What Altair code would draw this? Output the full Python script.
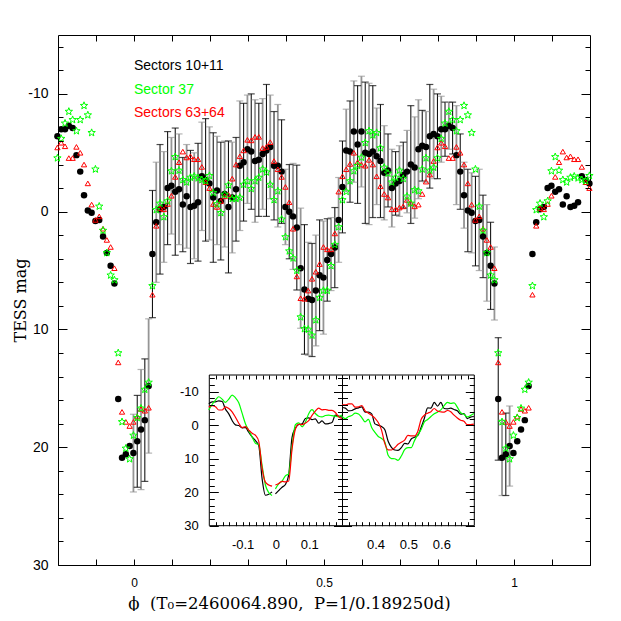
import math
import altair as alt
import pandas as pd

# ---------------- layout ----------------
W, H = 532, 530
PAD_L, PAD_T = 50, 27

# ---------------- data ----------------
PHASE = [round(-0.0015 + 0.01 * k, 4) for k in range(100)]

BLACK_MAG = [20.5, 19.5, 18.5, 17.7, 14.8, 3.6, 0.9, -0.2, -0.4, -2.0,
             -2.2, -1.7, -1.9, -0.6, -1.3, -0.4, -0.5, -0.8, -3.0, -2.7,
             -2.4, -1.2, -1.8, -0.9, -1.5, -0.4, -1.2, -1.9, -3.9, -4.2,
             -5.3, -5.1, -4.3, -4.4, -4.9, -5.2, -5.5, -3.9, -3.9, -3.4,
             -0.4, 0.0, 0.4, 1.35, 4.8, 6.6, 7.4, 7.5, 6.7, 5.4,
             5.6, 4.1, 3.6, 3.05, 0.7, -2.1, -5.2, -5.1, -6.8, -5.7,
             -6.8, -5.0, -4.9, -5.1, -4.7, -4.3, -3.3, -3.5, -2.0, -2.4,
             -2.6, -3.1, -3.4, -4.0, -3.75, -5.3, -5.6, -5.5, -6.4, -6.6,
             -6.4, -7.0, -7.0, -7.3, -7.1, -4.8, -3.4, -1.4, -0.1, 0.1,
             0.8, 0.7, 2.1, 3.5, 4.6, 6.1, 15.9, 20.9, 20.6, 19.9]

BLACK_ERR = [3.3, 3.9, 5.1, 5.2, 5.7, 5.4, 5.1, 5.5, 4.7, 4.8,
             4.1, 5.4, 4.7, 4.0, 4.4, 4.8, 4.5, 5.0, 4.6, 5.2,
             4.8, 5.5, 4.6, 5.0, 4.5, 5.6, 4.7, 4.4, 5.5, 5.0,
             4.6, 4.9, 5.2, 4.8, 4.7, 5.6, 4.4, 4.6, 5.2, 4.4,
             3.2, 4.0, 4.5, 5.3, 5.1, 5.5, 4.8, 4.8, 4.7, 4.7,
             4.8, 3.5, 3.1, 3.4, 3.6, 3.9, 3.5, 4.3, 4.3, 5.0,
             4.7, 6.0, 6.0, 5.6, 4.1, 4.8, 4.0, 3.1, 3.3, 2.7,
             3.0, 2.8, 3.5, 5.0, 4.3, 4.2, 3.0, 3.0, 4.4, 3.8,
             3.6, 2.8, 2.3, 2.0, 2.2, 4.2, 3.2, 2.8, 3.5, 3.4,
             3.8, 4.3, 3.5, 4.1, 3.7, 3.1, 5.2, 3.2, 3.5, 3.4]

GREEN_MAG = [19.0, 17.5, 16.7, 15.1, 14.5, 6.3, -0.15, -0.7, 0.45, -0.9,
             -3.45, -4.65, -3.5, -2.7, -2.5, -2.9, -3.0, -2.85, -2.7, -2.6,
             -3.05, -1.6, -0.65, 0.1, -1.45, -2.25, -1.1, -1.1, -1.2, -2.3,
             -2.6, -1.95, -2.6, -2.9, -3.6, -3.35, -2.3, -1.0, -1.75, 0.65,
             2.15, 3.35, 3.95, 5.0, 8.95, 9.95, 10.0, 10.5, 9.2, 7.3,
             6.7, 6.7, 4.6, 2.8, 1.3, -1.0, -1.7, -2.6, -3.45, -3.9,
             -4.6, -5.85, -6.85, -6.5, -6.7, -5.4, -3.75, -3.25, -2.5, -2.9,
             -3.5, -2.8, -1.3, -0.7, -1.85, -1.75, -3.6, -4.55, -3.5, -3.75,
             -4.55, -6.2, -7.5, -8.5, -7.8, -6.85, -7.8, -9.0, -8.2, -6.7,
             -3.6, -0.45, 1.6, 3.5, 5.4, 5.8, 12.0, 17.85, 20.1, 21.0]

RED_MAG = [17.85, 17.4, 16.75, 16.9, 16.65, 7.05, 1.2, -0.3, -0.2, -0.65,
           -1.35, -2.95, -4.2, -5.1, -4.6, -4.7, -4.45, -4.45, -3.8, -2.5,
           -2.0, -0.65, -0.4, -0.9, -1.3, -1.45, -2.8, -4.0, -4.7, -5.2,
           -6.1, -6.05, -6.35, -6.35, -5.4, -5.5, -5.9, -4.3, -3.6, -2.95,
           -2.1, -0.8, 1.45, 5.5, 7.35, 7.4, 6.7, 5.7, 5.1, 4.45,
           3.0, 3.2, 3.2, 1.85, -1.7, -3.0, -3.6, -4.05, -5.0, -4.2,
           -4.0, -3.9, -4.4, -4.0, -3.0, -2.15, -1.5, -1.2, -0.2, -0.2,
           -0.35, -0.45, -1.0, -0.75, -0.45, -0.6, -1.5, -2.55, -3.15, -4.3,
           -5.45, -5.85, -5.55, -4.55, -4.55, -5.5, -5.0, -4.0, -2.4, -0.6,
           0.7, 0.4, 1.45, 2.4, 3.0, 4.8, 12.8, 17.0, 17.85, 18.2]

LEGEND_LABELS = ["Sectors 10+11", "Sector 37", "Sectors 63+64"]
LEGEND_COLORS = ["black", "#00ff00", "#ff0000"]
LEGEND_X = [0.0, 0.0, 0.0]
LEGEND_Y = [-12.0, -10.0, -8.0]

X_TITLE = "\u03d5\u00a0 (T\u2080=2460064.890,\u00a0 P=1/0.189250d)"
Y_TITLE = "TESS mag"

# five-pointed star outline as a unit-size symbol path
_pts = []
for i in range(10):
    r = 1.0 if i % 2 == 0 else 0.42
    a = math.radians(-90 + 36 * i)
    _pts.append((r * math.cos(a), r * math.sin(a)))
STAR = "M" + " L".join(f"{x:.3f},{y:.3f}" for x, y in _pts) + " Z"


def expand(mags):
    rows = []
    for p, m in zip(PHASE, mags):
        rows.append({"phase": p, "mag": m, "seg": "main"})
        if p - 1 >= -0.205:
            rows.append({"phase": round(p - 1, 4), "mag": m, "seg": "before"})
        if p + 1 <= 1.2:
            rows.append({"phase": round(p + 1, 4), "mag": m, "seg": "after"})
    return pd.DataFrame(rows)


black_df = expand(BLACK_MAG)
green_df = expand(GREEN_MAG)
red_df = expand(RED_MAG)

err_df = pd.DataFrame({
    "phase": PHASE,
    "lo": [m - e for m, e in zip(BLACK_MAG, BLACK_ERR)],
    "hi": [m + e for m, e in zip(BLACK_MAG, BLACK_ERR)],
    "shade": [("k" if k % 2 == 1 else "g") if k < 75 else ("k" if k % 2 == 0 else "g")
              for k in range(100)],
})

legend_df = pd.DataFrame({"label": LEGEND_LABELS, "color": LEGEND_COLORS,
                          "x": LEGEND_X, "y": LEGEND_Y})

# ---------------- scales ----------------
X_MAIN = alt.Scale(domain=[-0.2, 1.2], range=[0, W], nice=False, zero=False)
Y_MAIN = alt.Scale(domain=[-15, 30], range=[0, H], nice=False, zero=False)

IT, IB = 340.0, 490.7          # inset top / bottom (pixels in plot area)
IL0, IL1, IR1 = 151.3, 284.5, 416.3
X_IL = alt.Scale(domain=[-0.2, 0.2], range=[IL0, IL1], nice=False, zero=False)
X_IR = alt.Scale(domain=[0.3, 0.7], range=[IL1, IR1], nice=False, zero=False)
Y_IN = alt.Scale(domain=[-15, 30], range=[IT, IB], nice=False, zero=False)

LBL_FONT = "Liberation Sans"
Y_MAJOR = [-10, 0, 10, 20, 30]
Y_MINOR = list(range(-14, 31, 2))
X_TICKS_MAIN = [round(-0.1 + 0.1 * i, 1) for i in range(13)]
X_TICKS_IL = [round(-0.18 + 0.02 * i, 2) for i in range(19)]
X_TICKS_IR = [round(0.32 + 0.02 * i, 2) for i in range(19)]


def tick_axis(orient, offset, values, size):
    return alt.Axis(orient=orient, offset=offset, values=values, tickSize=size,
                    tickColor="black", tickWidth=1, labels=False, domain=False,
                    grid=False, title=None, zindex=1)


def label_axis(orient, offset, values, size, pad, **kw):
    return alt.Axis(orient=orient, offset=offset, values=values,
                    labelExpr="datum.value + ''", tickSize=0, ticks=False,
                    domain=False, grid=False, labelFont=LBL_FONT,
                    labelFontSize=size, labelColor="black", labelPadding=pad,
                    labelFlush=False, labelOverlap=False, zindex=1, **kw)


carrier_df = pd.DataFrame({"phase": [0.0], "mag": [0.0]})


def carrier(xs, ys, xaxis, yaxis):
    return alt.Chart(carrier_df).mark_point(opacity=0).encode(
        x=alt.X("phase:Q", scale=xs, axis=xaxis),
        y=alt.Y("mag:Q", scale=ys, axis=yaxis),
    )


# ---------------- main panel ----------------
def xm():
    return alt.X("phase:Q", scale=X_MAIN, axis=None)


shade_color = alt.Color("shade:N", scale=alt.Scale(domain=["k", "g"],
                        range=["black", "#959595"]), legend=None)
shade_width = alt.StrokeWidth("shade:N", scale=alt.Scale(domain=["k", "g"],
                              range=[1.0, 1.8]), legend=None)

err_rule = alt.Chart(err_df).mark_rule().encode(
    x=xm(), y=alt.Y("lo:Q", scale=Y_MAIN, axis=None), y2="hi:Q",
    color=shade_color, strokeWidth=shade_width)
cap_lo = alt.Chart(err_df).mark_tick(orient="horizontal", size=7, thickness=1.2).encode(
    x=xm(), y=alt.Y("lo:Q", scale=Y_MAIN, axis=None), color=shade_color)
cap_hi = alt.Chart(err_df).mark_tick(orient="horizontal", size=7, thickness=1.2).encode(
    x=xm(), y=alt.Y("hi:Q", scale=Y_MAIN, axis=None), color=shade_color)

ym = alt.Y("mag:Q", scale=Y_MAIN, axis=None)
black_pts = alt.Chart(black_df).mark_point(shape="circle", filled=True, size=42,
                                           color="black", opacity=1).encode(x=xm(), y=ym)
red_pts = alt.Chart(red_df).mark_point(shape="triangle-up", filled=False, size=28,
                                       color="#ff0000", strokeWidth=1, opacity=1).encode(x=xm(), y=ym)
green_pts = alt.Chart(green_df).mark_point(shape=STAR, filled=False, size=60,
                                           color="#00ff00", strokeWidth=1, opacity=1).encode(x=xm(), y=ym)

legend_txt = alt.Chart(legend_df).mark_text(align="left", baseline="alphabetic",
                                            font=LBL_FONT, fontSize=14).encode(
    x=alt.X("x:Q", scale=X_MAIN, axis=None),
    y=alt.Y("y:Q", scale=Y_MAIN, axis=None),
    text="label:N",
    color=alt.Color("color:N", scale=None),
)

main_axes = [
    carrier(X_MAIN, Y_MAIN,
            label_axis("bottom", 0, [0, 0.5, 1], 12, 12,
                       title=X_TITLE, titleFont="DejaVu Serif", titleFontSize=16.5,
                       titleFontWeight="normal", titleColor="black",
                       titleX=231, titleY=43, titleBaseline="alphabetic"),
            label_axis("left", 0, Y_MAJOR, 14, 10,
                       title=Y_TITLE, titleFont="DejaVu Serif", titleFontSize=16,
                       titleFontWeight="normal", titleColor="black",
                       titleX=-38, titleY=H / 2, titleBaseline="middle")),
    carrier(X_MAIN, Y_MAIN, tick_axis("top", -H, X_TICKS_MAIN, 6),
            tick_axis("right", -W, Y_MAJOR, 9)),
    carrier(X_MAIN, Y_MAIN, tick_axis("bottom", -H, X_TICKS_MAIN, 6),
            tick_axis("right", -W, Y_MINOR, 5)),
    carrier(X_MAIN, Y_MAIN, None, tick_axis("left", -W, Y_MAJOR, 9)),
    carrier(X_MAIN, Y_MAIN, None, tick_axis("left", -W, Y_MINOR, 5)),
]

main = alt.layer(err_rule, cap_lo, cap_hi, black_pts, red_pts, green_pts, legend_txt,
                 *main_axes).resolve_axis(x="independent", y="independent")


# ---------------- inset ----------------
def inset_panel(xs, lo, hi, xlabels, xticks, x0, x1, with_ylabels):
    bg = pd.DataFrame({"a": [lo], "b": [hi], "c": [-15], "d": [30]})
    rect = alt.Chart(bg).mark_rect(fill="white", stroke="black", strokeWidth=1).encode(
        x=alt.X("a:Q", scale=xs, axis=None), x2="b:Q",
        y=alt.Y("c:Q", scale=Y_IN, axis=None), y2="d:Q")
    lines = []
    for df, col in ((black_df, "black"), (green_df, "#00ff00"), (red_df, "#ff0000")):
        sub = df[(df.phase >= lo - 0.006) & (df.phase <= hi + 0.006)]
        lines.append(alt.Chart(sub).mark_line(color=col, strokeWidth=1.2,
                                              interpolate="monotone").encode(
            x=alt.X("phase:Q", scale=xs, axis=None),
            y=alt.Y("mag:Q", scale=Y_IN, axis=None),
            detail="seg:N", order="phase:Q"))
    ylab = (label_axis("left", -x0, Y_MAJOR, 13, 11, title=None)
            if with_ylabels else None)
    axes = [
        carrier(xs, Y_IN, label_axis("bottom", IB - H, xlabels, 13, 13, title=None), ylab),
        carrier(xs, Y_IN, tick_axis("top", -IB, xticks, 4),
                tick_axis("right", x0 - W, Y_MAJOR, 9)),
        carrier(xs, Y_IN, tick_axis("bottom", IT - H, xticks, 4),
                tick_axis("right", x0 - W, Y_MINOR, 5)),
        carrier(xs, Y_IN, None, tick_axis("left", -x1, Y_MAJOR, 9)),
        carrier(xs, Y_IN, None, tick_axis("left", -x1, Y_MINOR, 5)),
    ]
    return alt.layer(rect, *lines, *axes).resolve_axis(x="independent", y="independent")


inset_left = inset_panel(X_IL, -0.2, 0.2, [-0.1, 0, 0.1], X_TICKS_IL, IL0, IL1, True)
inset_right = inset_panel(X_IR, 0.3, 0.7, [0.4, 0.5, 0.6], X_TICKS_IR, IL1, IR1, False)

chart = alt.layer(main, inset_left, inset_right).resolve_scale(
    x="independent", y="independent", color="independent", strokeWidth="independent"
).resolve_axis(x="independent", y="independent").properties(
    width=W, height=H,
    autosize=alt.AutoSizeParams(type="none"),
    padding={"left": PAD_L, "top": PAD_T, "right": 20, "bottom": 46},
    background="white",
).configure_view(stroke="black", strokeWidth=1)

chart.save("out.html", embed_options={"renderer": "svg", "actions": False})
